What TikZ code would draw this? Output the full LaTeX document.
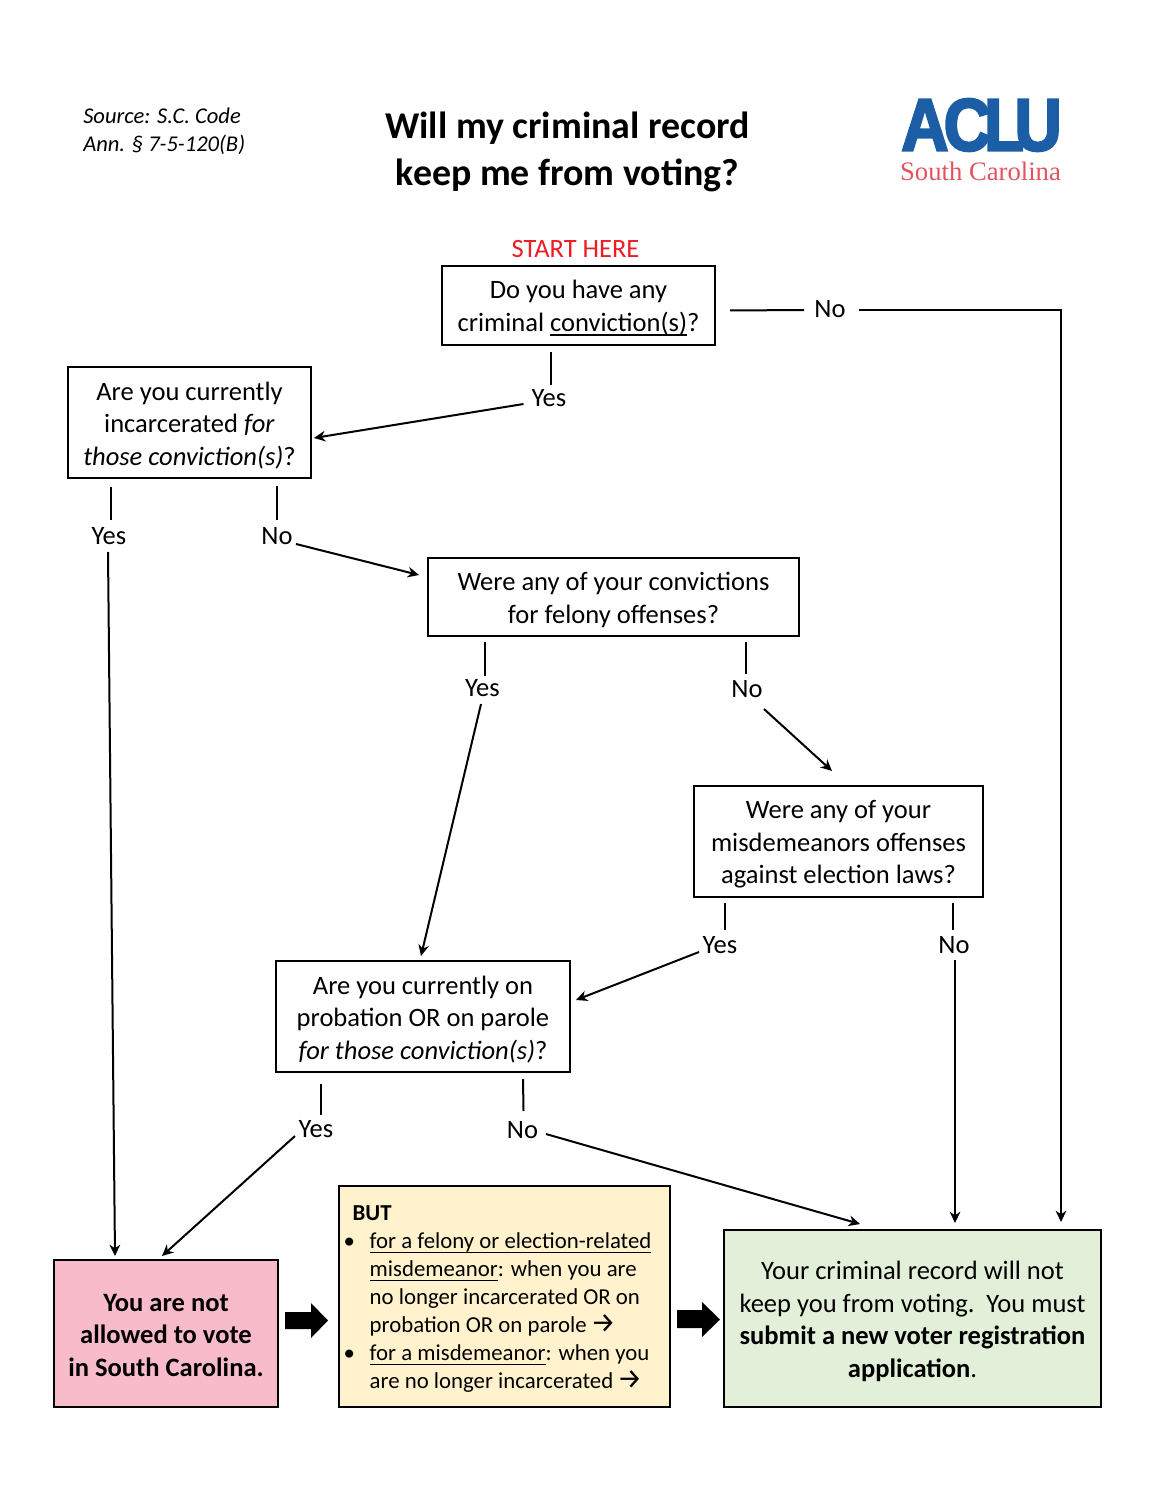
\documentclass[tikz,border=0pt]{standalone}
\usepackage{fontspec}
\setmainfont{Carlito}
\newfontfamily\aclufont[FakeBold=3.2,FakeStretch=0.88]{Liberation Sans Bold}
\newfontfamily\logoserif{Liberation Serif}
\newfontfamily\arrfont{Fira Sans}
\usetikzlibrary{arrows.meta}
\newcommand\ulx[1]{\setbox0\hbox{#1}\leavevmode\rlap{\copy0}\rule[-3.2pt]{\wd0}{1.1pt}}
\newcommand\bodyfs{\fontsize{19.9}{24.4}\selectfont}
\newcommand\qtop{\rule{0pt}{17.8pt}}
\newcommand\rarr{\kern-1pt{\arrfont\fontsize{21}{21}\selectfont →}}
\definecolor{pinkbox}{HTML}{F8BBC9}
\definecolor{yellowbox}{HTML}{FFF2CC}
\definecolor{greenbox}{HTML}{E2EFD9}
\definecolor{startred}{HTML}{ED1C24}
\definecolor{aclublue}{HTML}{1B5EA6}
\definecolor{aclured}{HTML}{E2535E}
\tikzset{
  qbox/.style={draw=black,line width=1.5pt,inner sep=0pt,outer sep=0pt,align=center,font=\bodyfs},
  lab/.style={inner sep=0pt,outer sep=0pt,font=\bodyfs},
  conn/.style={line width=1.5pt,draw=black},
  arr/.style={conn,-{Stealth[length=8.5pt,width=8pt]}},
  bigarrow/.style={fill=black,draw=none}
}
\begin{document}
\begin{tikzpicture}[x=0.75pt,y=-0.75pt]
\useasboundingbox (0,0) rectangle (1160,1501);
% header
\node[inner sep=0pt,align=flush left,anchor=north west,font=\fontsize{16.9}{21}\selectfont\itshape] (source) at (83,108) {Source: S.C. Code\\Ann. § 7-5-120(B)};
\node[inner sep=0pt,align=center,font=\fontsize{28.4}{35.3}\selectfont\bfseries] (title) at (567.5,152) {Will my criminal record\\keep me from voting?};
\node[inner sep=0pt,text=aclublue,font=\fontsize{55.5}{60}\aclufont] (aclu) at (981.5,125) {A\kern-3.5pt C\kern-5pt L\kern-7pt U};
\node[inner sep=0pt,text=aclured,font=\fontsize{20}{20}\logoserif] (sc) at (980.5,171) {South Carolina};
\node[inner sep=0pt,text=startred,font=\fontsize{19.85}{22}\selectfont] (start) at (575.5,249.5) {START HERE};
% questions
\node[qbox,minimum width=273*0.75pt,minimum height=79*0.75pt] (A) at (578.5,305.5) {\qtop Do you have any\\criminal \ulx{conviction(s)}?};
\node[qbox,minimum width=243*0.75pt,minimum height=111*0.75pt] (B) at (189.5,422.5) {\qtop Are you currently\\incarcerated \textit{for}\\\textit{those conviction(s)}?};
\node[qbox,minimum width=371*0.75pt,minimum height=78*0.75pt] (C) at (613.5,597) {\qtop Were any of your convictions\\for felony offenses?};
\node[qbox,minimum width=289*0.75pt,minimum height=111*0.75pt] (D) at (838.5,841.5) {\qtop Were any of your\\misdemeanors offenses\\against election laws?};
\node[qbox,minimum width=294*0.75pt,minimum height=111*0.75pt] (E) at (423,1016.5) {\qtop Are you currently on\\probation OR on parole\\\textit{for those conviction(s)}?};
% outcomes
\node[qbox,fill=pinkbox,minimum width=224*0.75pt,minimum height=147*0.75pt,font=\bodyfs\bfseries] (F) at (166,1333.5) {\rule{0pt}{15.2pt}You are not\\allowed to vote\\in South Carolina.};
\node[qbox,fill=yellowbox,minimum width=331*0.75pt,minimum height=221*0.75pt,text width=331*0.75pt-14*0.75pt,align=flush left,font=\fontsize{17.1}{21}\selectfont] (G) at (504.5,1296.5) {\rule{0pt}{15.5pt}\hspace*{5pt}\textbf{BUT}\\
\hspace*{17.8pt}\llap{\textbullet\hspace{11pt}}\ulx{for a felony or election-related}\\
\hspace*{17.8pt}\ulx{misdemeanor}: when you are\\
\hspace*{17.8pt}no longer incarcerated OR on\\
\hspace*{17.8pt}probation OR on parole \rarr\\
\hspace*{17.8pt}\llap{\textbullet\hspace{11pt}}\ulx{for a misdemeanor}: when you\\
\hspace*{17.8pt}are no longer incarcerated \rarr};
\node[qbox,fill=greenbox,minimum width=377*0.75pt,minimum height=177*0.75pt] (H) at (912.5,1318.5) {\qtop Your criminal record will not\\keep you from voting.\ \ You must\\\textbf{submit a new voter registration}\\\textbf{application}.};
% labels
\node[lab] (YesA) at (549,398) {Yes};
\node[lab] (NoA) at (830,309) {No};
\node[lab] (YesB) at (109,536) {Yes};
\node[lab] (NoB) at (277,536) {No};
\node[lab] (YesC) at (482.5,688) {Yes};
\node[lab] (NoC) at (747,689) {No};
\node[lab] (YesD) at (720,945) {Yes};
\node[lab] (NoD) at (954,945) {No};
\node[lab] (YesE) at (316,1129) {Yes};
\node[lab] (NoE) at (522.5,1130) {No};
% connectors
\draw[conn] ([shift={(-27.5,7)}]A.south) -- ([shift={(-27.5,-13)}]YesA.center -| A.south);
\draw[arr] ([shift={(-25.5,6)}]YesA.center) -- ([shift={(3,15.5)}]B.east);
\draw[conn] ([shift={(15,5)}]A.east) -- ([shift={(-26,1)}]NoA.center);
\draw[arr] ([shift={(29,1)}]NoA.center) -| ([shift={(148.5,-8)}]H.north);
\draw[conn] ([shift={(-79,9)}]B.south) -- ([shift={(1.5,-16)}]YesB.center);
\draw[arr] ([shift={(-1,16)}]YesB.center) -- ([shift={(-51,-4)}]F.north);
\draw[conn] ([shift={(87.5,8)}]B.south) -- ([shift={(0,-16)}]NoB.center);
\draw[arr] ([shift={(19,8)}]NoB.center) -- ([shift={(-9,-22)}]C.west);
\draw[conn] ([shift={(-129,6)}]C.south) -- ([shift={(2,-12)}]YesC.center);
\draw[arr] ([shift={(-1.5,16)}]YesC.center) -- ([shift={(-2,-5)}]E.north);
\draw[conn] ([shift={(132,6)}]C.south) -- ([shift={(-1.5,-15)}]NoC.center);
\draw[arr] ([shift={(17,20)}]NoC.center) -- ([shift={(-6.5,-15)}]D.north);
\draw[conn] ([shift={(-114,6)}]D.south) -- ([shift={(4.5,-15)}]YesD.center);
\draw[arr] ([shift={(-21,7)}]YesD.center) -- ([shift={(6,-16.5)}]E.east);
\draw[conn] ([shift={(114.5,6)}]D.south) -- ([shift={(-1,-15)}]NoD.center);
\draw[arr] ([shift={(1,15)}]NoD.center) -- ([shift={(42.5,-7)}]H.north);
\draw[conn] ([shift={(-102.5,12)}]E.south) -- ([shift={(4.5,-14)}]YesE.center);
\draw[arr] ([shift={(-21,7)}]YesE.center) -- ([shift={(-4,-4)}]F.north);
\draw[conn] ([shift={(100,7)}]E.south) -- ([shift={(1,-19)}]NoE.center);
\draw[arr] ([shift={(23.5,4)}]NoE.center) -- ([shift={(-52.5,-6)}]H.north);
% block arrows between outcomes
\fill[bigarrow] (285,1312) -- (311,1312) -- (311,1303) -- (328,1320.5) -- (311,1338) -- (311,1329) -- (285,1329) -- cycle;
\fill[bigarrow] (677,1310) -- (702,1310) -- (702,1302) -- (720,1319.5) -- (702,1337) -- (702,1328) -- (677,1328) -- cycle;
\end{tikzpicture}
\end{document}
